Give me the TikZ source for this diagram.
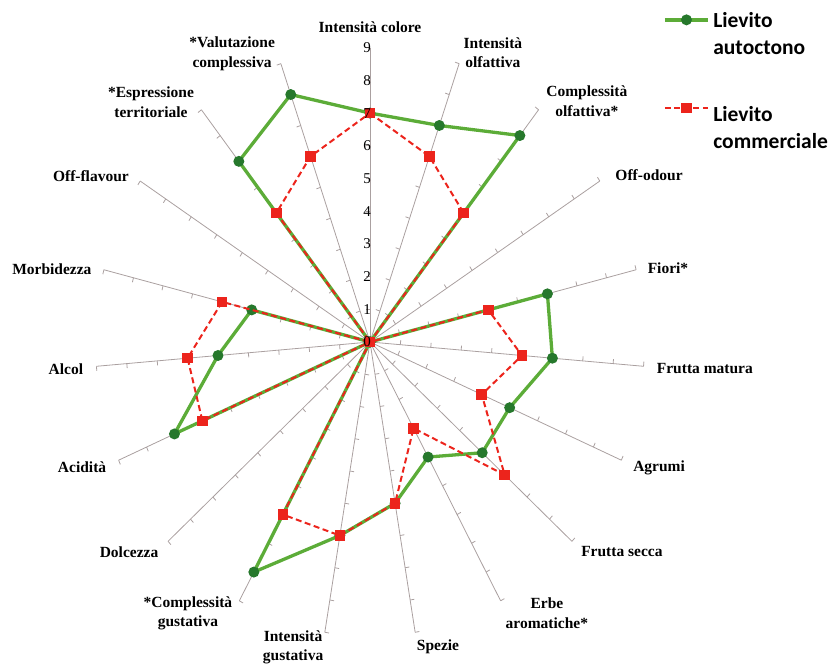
\documentclass[tikz,border=0pt]{standalone}
\usepackage{fontspec}
\setmainfont{Liberation Serif}
\newfontfamily\legendfont{Carlito}
\definecolor{axisgray}{RGB}{170,160,160}
\definecolor{autoline}{RGB}{92,172,56}
\definecolor{automark}{RGB}{38,120,44}
\definecolor{commred}{RGB}{236,36,28}
\tikzset{
  axisline/.style={axisgray,line width=0.8pt},
  autoctono/.style={autoline,line width=3.3pt,line join=round},
  commerciale/.style={commred,line width=2pt,line join=round,dash pattern=on 6pt off 3.5pt},
  automarker/.style={circle,fill=automark,inner sep=0pt,minimum size=11pt},
  commmarker/.style={rectangle,fill=commred,inner sep=0pt,minimum size=10.5pt},
  axislab/.style={font=\bfseries\fontsize{15.5}{19.5}\selectfont,align=center,inner sep=0pt},
  scalenum/.style={font=\fontsize{15}{17}\selectfont,inner sep=0.5pt,anchor=east},
  legendtext/.style={font=\legendfont\bfseries\fontsize{21.5}{27}\selectfont,align=left,inner sep=0pt}
}

\begin{document}
\begin{tikzpicture}[xscale=1.072,yscale=1.1493]
\useasboundingbox (-12.131,-9.847) rectangle (15.115,10.459);
\foreach \i in {0,...,18}{
  \draw[axisline] (0,0) -- (90-\i*18.9474:9);
  \foreach \k in {1,...,9}
    \draw[axisline] (90-\i*18.9474:\k) -- ++(180-\i*18.9474:0.14);
}
\foreach \v [count=\i from 0] in {7,7,8,0,6,6,5,5,4,5,6,8,0,7,5,4,0,7,8}
  \coordinate (auto\i) at (90-\i*18.9474:\v);
\foreach \v [count=\i from 0] in {7,6,5,0,4,5,4,6,3,5,6,6,0,6,6,5,0,5,6}
  \coordinate (comm\i) at (90-\i*18.9474:\v);
\draw[autoctono] (auto0) \foreach \i in {1,...,18}{ -- (auto\i)} -- cycle;
\foreach \i in {0,...,18} \node[automarker] (autodot\i) at (auto\i) {};
\draw[commerciale] (comm0) \foreach \i in {1,...,18}{ -- (comm\i)} -- cycle;
\foreach \i in {0,...,18} \node[commmarker] (commdot\i) at (comm\i) {};
\foreach \k in {0,...,9} \node[scalenum] (num\k) at (0.05,\k) {\k};
\foreach \x/\y/\txt [count=\i from 0] in {
  0/9.63/{Intensità colore}, 4.03/8.84/{Intensità\\olfattiva},
  7.11/7.37/{Complessità\\olfattiva*}, 9.15/5.11/{Off-odour},
  9.77/2.26/{Fiori*}, 10.98/-0.80/{Frutta matura},
  9.48/-3.85/{Agrumi}, 8.26/-6.42/{Frutta secca},
  5.80/-8.29/{Erbe\\aromatiche*}, 2.23/-9.33/{Spezie},
  -2.52/-9.33/{Intensità\\gustativa}, -5.97/-8.29/{*Complessità\\gustativa},
  -7.90/-6.42/{Dolcezza}, -9.44/-3.82/{Acidità},
  -9.97/-0.83/{Alcol}, -10.43/2.23/{Morbidezza},
  -9.15/5.08/{Off-flavour}, -7.18/7.34/{*Espressione\\territoriale},
  -4.52/8.81/{*Valutazione\\complessiva}}
  \node[axislab] (lab\i) at (\x,\y) {\txt};
\coordinate (autoL) at (9.67,9.85);
\coordinate (autoR) at (11.08,9.85);
\draw[autoctono] (autoL) -- node[automarker] (autokey) {} (autoR);
\node[legendtext,anchor=base west] (autolab) at (11.25,8.78) {Lievito\\autoctono};
\coordinate (commL) at (9.67,7.156);
\coordinate (commR) at (11.08,7.156);
\draw[commerciale] (commL) -- node[commmarker] (commkey) {} (commR);
\node[legendtext,anchor=base west] (commlab) at (11.25,5.93) {Lievito\\commerciale};
\end{tikzpicture}
\end{document}
